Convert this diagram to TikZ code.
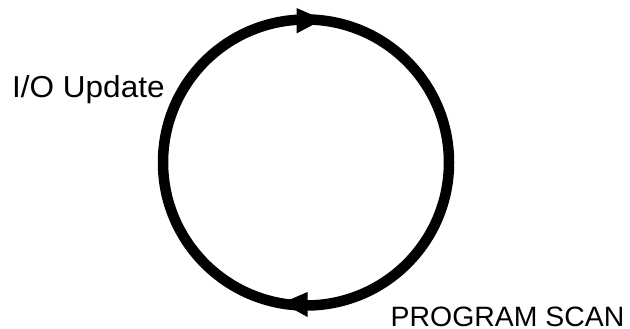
\documentclass[tikz,border=0pt]{standalone}
\usepackage{fontspec}
\usepackage{graphicx}
\setmainfont{Liberation Sans}
\begin{document}
\begin{tikzpicture}[x=1pt,y=1pt,
  ring/.style={line width=10.5pt,draw=black},
  head/.style={fill=black,draw=none},
  lbl/.style={inner sep=0pt}]
\useasboundingbox (0,0) rectangle (630,-329);
\coordinate (c) at (306,-162.5);
\draw[ring] (c) circle[radius=143];
% top arrowhead (pointing right)
\fill[head] (296.5,-8) -- (323,-19.5) -- (296.5,-33.5) -- cycle;
% bottom arrowhead (pointing left)
\fill[head] (307.5,-292) -- (282,-303) -- (307.5,-317) -- cycle;
\node[lbl,anchor=base west] (io) at (12,-97.5)
  {\scalebox{1.04}[1]{\fontsize{30.3}{32}\selectfont I/O Update}};
\node[lbl,anchor=base west] (ps) at (390.5,-326.5)
  {\scalebox{1.015}[1]{\fontsize{28}{30}\selectfont PROGRAM SCAN}};
\end{tikzpicture}
\end{document}
